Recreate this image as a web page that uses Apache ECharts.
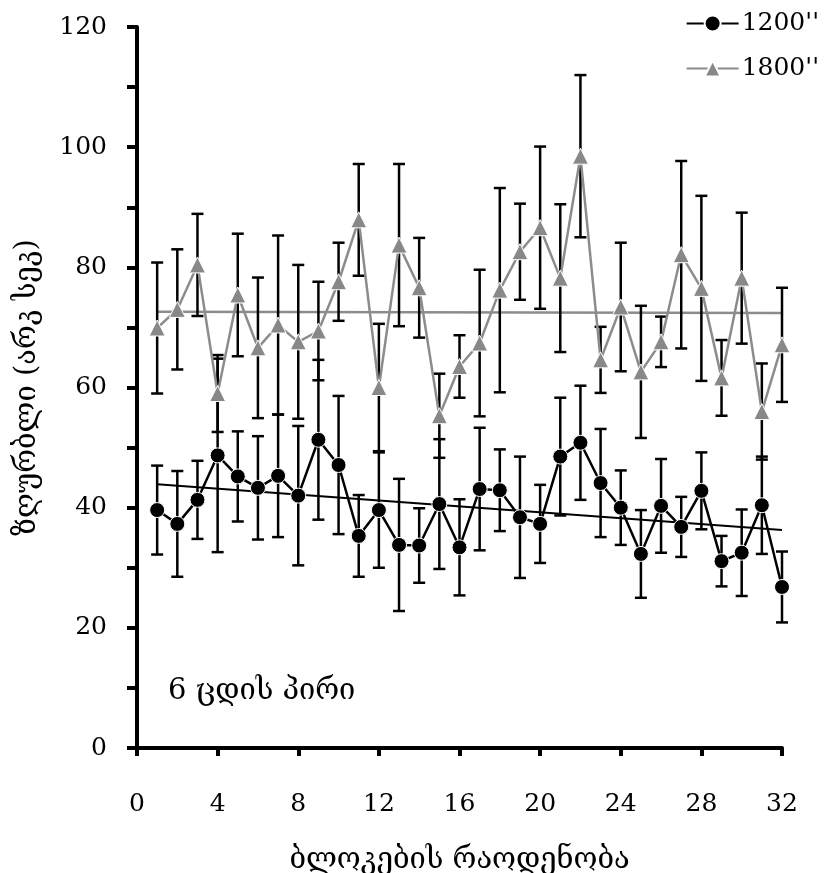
<!DOCTYPE html>
<html>
<head>
<meta charset="utf-8">
<script src="https://cdn.jsdelivr.net/npm/echarts@6/dist/echarts.min.js"></script>
<style>html,body{margin:0;padding:0;background:#fff}#c{width:832px;height:873px}</style>
</head>
<body>
<div id="c"></div>
<script>
var blocks = [1,2,3,4,5,6,7,8,9,10,11,12,13,14,15,16,17,18,19,20,21,22,23,24,25,26,27,28,29,30,31,32];
var v1200 = [39.6,37.3,41.3,48.7,45.2,43.3,45.3,42.0,51.3,47.1,35.3,39.6,33.8,33.7,40.6,33.4,43.1,42.9,38.4,37.3,48.5,50.8,44.1,40.0,32.3,40.3,36.8,42.8,31.1,32.5,40.4,26.8];
var e1200 = [7.4,8.8,6.5,16.1,7.5,8.6,10.2,11.6,13.3,11.5,6.8,9.6,11.0,6.2,10.8,8.0,10.2,6.8,10.1,6.5,9.8,9.5,9.0,6.2,7.3,7.8,5.0,6.4,4.2,7.2,8.1,5.9];
var v1800 = [69.9,73.0,80.4,59.0,75.4,66.6,70.4,67.6,69.4,77.6,87.9,60.0,83.7,76.6,55.3,63.5,67.4,76.2,82.6,86.6,78.2,98.5,64.6,73.4,62.6,67.6,82.1,76.5,61.6,78.2,56.0,67.1];
var e1800 = [10.9,10.0,8.5,6.4,10.2,11.7,14.9,12.8,8.2,6.5,9.3,10.6,13.5,8.3,7.0,5.2,12.2,17.0,8.0,13.5,12.3,13.5,5.5,10.7,11.0,4.2,15.6,15.4,6.3,10.9,8.0,9.5];
var trendX = [1,32];
var trend1200 = [43.9,36.3];
var trend1800 = [72.6,72.4];
var seriesNames = ["1200''","1800''"];
var xTitle = "ბლოკების რაოდენობა";
var yTitle = "ზღურბლი (არკ სეკ)";
var note = "6 ცდის პირი";

var FONT = "'DejaVu Serif','DejaVu Sans',serif";
var GEO = 29;
function pairs(xs, ys){ return xs.map(function(x,i){ return [x, ys[i]]; }); }
function errData(vals, errs){ return blocks.map(function(x,i){ return [x, vals[i]-errs[i], vals[i]+errs[i]]; }); }
function errRender(params, api){
  var x = api.value(0);
  var lo = api.coord([x, api.value(1)]);
  var hi = api.coord([x, api.value(2)]);
  var hw = 6;
  var st = {stroke:'#000', lineWidth:2.5};
  return {type:'group', children:[
    {type:'line', shape:{x1:lo[0],y1:lo[1],x2:hi[0],y2:hi[1]}, style:st},
    {type:'line', shape:{x1:lo[0]-hw,y1:lo[1],x2:lo[0]+hw,y2:lo[1]}, style:st},
    {type:'line', shape:{x1:hi[0]-hw,y1:hi[1],x2:hi[0]+hw,y2:hi[1]}, style:st}
  ]};
}
var numStyle = {fontFamily:FONT,fontSize:25,color:'#000'};
var chart = echarts.init(document.getElementById('c'));
chart.setOption({
  animation:false,
  backgroundColor:'#fff',
  grid:{left:137,right:50,top:27,bottom:125,containLabel:false,outerBoundsContain:'axisLabel'},
  legend:{
    data:seriesNames, orient:'vertical', right:8, top:6, itemGap:20,
    itemWidth:52, itemHeight:20,
    textStyle:{fontFamily:FONT,fontSize:25,color:'#000',padding:[0,0,0,-2]}
  },
  xAxis:{
    type:'value', min:0, max:32, interval:4,
    name:xTitle, nameLocation:'middle', nameGap:98,
    nameTextStyle:{fontFamily:FONT,fontSize:GEO,color:'#000'},
    axisLine:{show:true,onZero:false,lineStyle:{color:'#000',width:4}},
    axisTick:{show:true,length:8,lineStyle:{color:'#000',width:4}},
    axisLabel:Object.assign({margin:44}, numStyle),
    splitLine:{show:false}
  },
  yAxis:{
    type:'value', min:0, max:120, interval:20,
    name:yTitle, nameLocation:'middle', nameGap:95, nameRotate:90,
    nameTextStyle:{fontFamily:FONT,fontSize:GEO,color:'#000'},
    axisLine:{show:true,lineStyle:{color:'#000',width:4}},
    axisTick:{show:true,length:10,lineStyle:{color:'#000',width:4}},
    minorTick:{show:true,splitNumber:2,length:10,lineStyle:{color:'#000',width:4}},
    axisLabel:Object.assign({margin:30}, numStyle),
    splitLine:{show:false}
  },
  graphic:[{type:'text', left:168, top:677, style:{text:note, font:GEO+"px "+FONT, fill:'#000'}}],
  series:[
    {type:'line', data:pairs(trendX,trend1800), symbol:'none', lineStyle:{color:'#8c8c8c',width:2.5}, z:1, silent:true},
    {type:'line', data:pairs(trendX,trend1200), symbol:'none', lineStyle:{color:'#000',width:2}, z:1, silent:true},
    {type:'custom', data:errData(v1800,e1800), renderItem:errRender, z:2, silent:true},
    {type:'custom', data:errData(v1200,e1200), renderItem:errRender, z:2, silent:true},
    {name:seriesNames[1], type:'line', data:pairs(blocks,v1800), symbol:'triangle', symbolSize:16,
      itemStyle:{color:'#888',borderColor:'#fff',borderWidth:1}, lineStyle:{color:'#8c8c8c',width:2.5}, z:3},
    {name:seriesNames[0], type:'line', data:pairs(blocks,v1200), symbol:'circle', symbolSize:15,
      itemStyle:{color:'#000',borderColor:'#fff',borderWidth:1}, lineStyle:{color:'#000',width:2.5}, z:4}
  ]
});
</script>
</body>
</html>
